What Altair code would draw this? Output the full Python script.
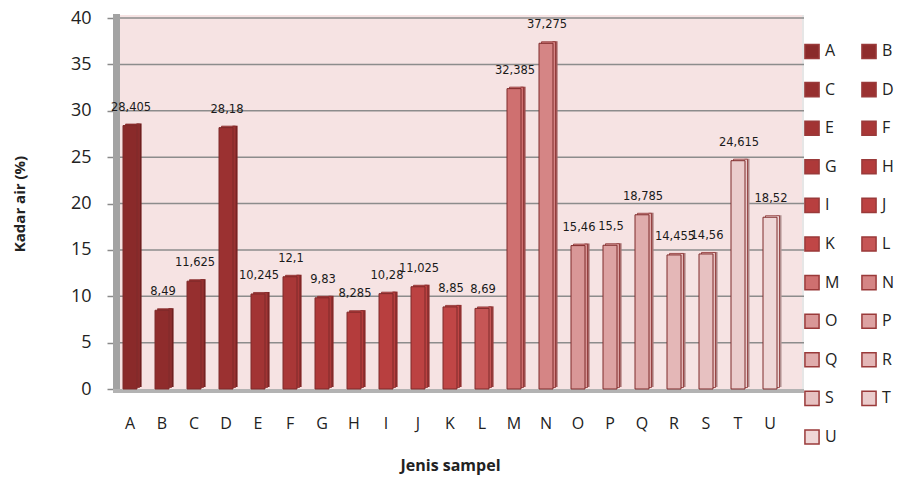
import altair as alt
import pandas as pd

cats = list("ABCDEFGHIJKLMNOPQRSTU")
values = [28.405, 8.49, 11.625, 28.18, 10.245, 12.1, 9.83, 8.285, 10.28, 11.025,
          8.85, 8.69, 32.385, 37.275, 15.46, 15.5, 18.785, 14.455, 14.56, 24.615, 18.52]
labels = ["28,405", "8,49", "11,625", "28,18", "10,245", "12,1", "9,83", "8,285", "10,28",
          "11,025", "8,85", "8,69", "32,385", "37,275", "15,46", "15,5", "18,785", "14,455",
          "14,56", "24,615", "18,52"]
colors = ["#8a2a2a", "#8f2c2c", "#962f2f", "#9b3131", "#a23434", "#a93737", "#ae3939",
          "#b43c3c", "#b83f3f", "#bc4242", "#c04646", "#c65656", "#cf7070", "#d58585",
          "#d99797", "#dda2a2", "#e0acac", "#e4b7b7", "#e7c1c1", "#ebcccc", "#efd7d7"]
yticks = [0, 5, 10, 15, 20, 25, 30, 35, 40]

df = pd.DataFrame({"cat": cats, "val": values, "lab": labels})
grid_df = pd.DataFrame({"val": yticks[1:]})

W, H = 672, 371
WALL = 690

xenc = alt.X("cat:N", sort=cats, scale=alt.Scale(domain=cats, paddingInner=0, paddingOuter=0),
             axis=alt.Axis(title="Jenis sampel", labelAngle=0, labelFont="Open Sans",
                           labelFontSize=16, labelColor="#222222", labelPadding=26,
                           ticks=False, domain=False, titleFont="Open Sans",
                           titleFontSize=16, titleFontWeight="bold", titlePadding=26,
                           titleColor="#222222"))
yscale = alt.Scale(domain=[0, 40], nice=False)
yaxis = alt.Axis(title="Kadar air (%)", values=yticks, labelFont="Open Sans",
                 labelFontSize=18, labelColor="#222222", labelPadding=16,
                 tickColor="#8a8a8a", tickSize=7, tickWidth=1.5, domain=False,
                 grid=False, titleFont="Open Sans", titleFontSize=15,
                 titleFontWeight="bold", titlePadding=43, titleColor="#222222")
yenc = alt.Y("val:Q", scale=yscale, axis=yaxis)
legend = alt.Legend(title=None, orient="none", legendX=690, legendY=25,
                    direction="horizontal", columns=2, symbolType="square", symbolSize=200,
                    symbolStrokeColor="#9a3a3a", symbolStrokeWidth=1.5,
                    labelFont="Open Sans", labelFontSize=16,
                    labelColor="#222222", labelOffset=5,
                    rowPadding=16.6, columnPadding=18)
cenc = alt.Color("cat:N", scale=alt.Scale(domain=cats, range=colors), sort=cats, legend=legend)

one = pd.DataFrame({"a": [0]})
wall = alt.Chart(one).mark_rect(color="#f6e3e3").encode(
    x=alt.value(6), x2=alt.value(WALL), y=alt.value(-3), y2=alt.value(H))
rwall = alt.Chart(one).mark_rect(color="#e6e6e6").encode(
    x=alt.value(WALL - 2), x2=alt.value(WALL), y=alt.value(-3), y2=alt.value(H))
grid = alt.Chart(grid_df).mark_rule(color="#8c8c8c", strokeWidth=1.5).encode(
    y=yenc, x=alt.value(6), x2=alt.value(WALL))
lwall = alt.Chart(one).mark_rect(color="#a3a3a3").encode(
    x=alt.value(-1), x2=alt.value(6), y=alt.value(-4), y2=alt.value(H + 4))
floor = alt.Chart(one).mark_rect(color="#b3b3b3").encode(
    x=alt.value(-1), x2=alt.value(WALL), y=alt.value(H), y2=alt.value(H + 4))

base = alt.Chart(df)
side = base.mark_bar(width=5, xOffset=9, yOffset=-2, y2Offset=-1).encode(
    x=xenc, y=yenc, color=cenc)
side_dark = base.mark_bar(width=5, xOffset=9, yOffset=-2, y2Offset=-1, color="#3a0a0a",
                          opacity=0.35).encode(x=xenc, y=yenc)
top = base.mark_bar(width=14, height=3, xOffset=2.5, yOffset=-1.5, stroke="#8b3030",
                    strokeWidth=0.8).encode(x=xenc, y=yenc, color=cenc)
front = base.mark_bar(width=14, stroke="#7f2a2a", strokeWidth=1).encode(
    x=xenc, y=yenc, color=cenc)
text = base.mark_text(font="DejaVu Sans", fontSize=11.5, color="#1a1a1a", dy=-18,
                      dx=1).encode(x=xenc, y=yenc, text="lab:N")

chart = alt.layer(wall, rwall, grid, lwall, floor, side, side_dark, top, front, text).properties(
    width=W, height=H, padding={"left": 106, "top": 10, "right": 113, "bottom": 92},
    autosize=alt.AutoSizeParams(type="none")
).configure_view(stroke=None).configure(background="white")

chart.save("out.html", embed_options={"renderer": "svg", "actions": False})
